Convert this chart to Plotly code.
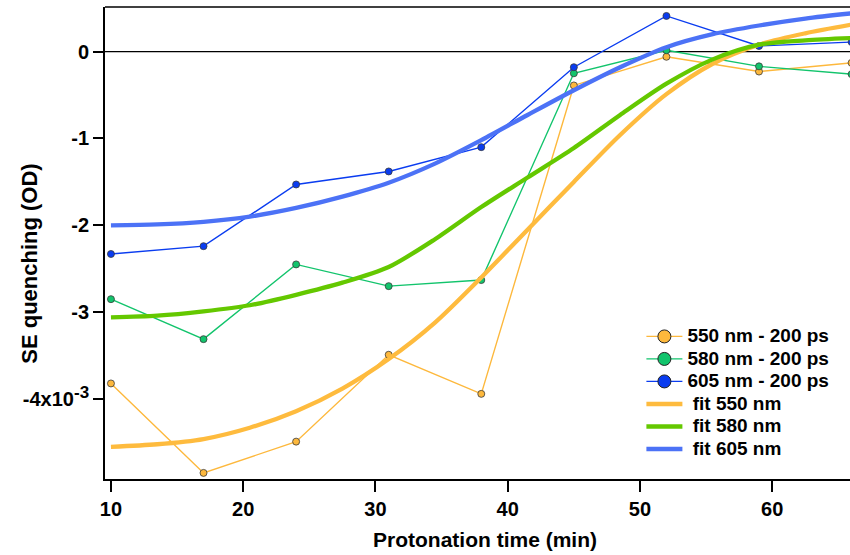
import plotly.graph_objects as go

# Protonation time (min)
time_min = [10, 17, 24, 31, 38, 45, 52, 59, 66]

# Stimulated-emission quenching, units of 1e-3 OD
se_550 = [-3.82, -4.85, -4.49, -3.49, -3.94, -0.39, -0.06, -0.23, -0.13]
se_580 = [-2.85, -3.31, -2.45, -2.70, -2.63, -0.25, 0.015, -0.17, -0.26]
se_605 = [-2.33, -2.24, -1.53, -1.38, -1.10, -0.18, 0.41, 0.064, 0.11]

# Sigmoidal fit curves, sampled every 3.5 min
fit_time = [10, 13.5, 17, 20.5, 24, 27.5, 31, 34.5, 38, 41.5, 45, 48.5, 52, 55.5, 59, 62.5, 66]
fit_550 = [-4.55, -4.52, -4.46, -4.33, -4.14, -3.88, -3.54, -3.12, -2.60, -2.05, -1.50,
           -0.96, -0.49, -0.14, 0.08, 0.21, 0.31]
fit_580 = [-3.06, -3.04, -2.99, -2.92, -2.80, -2.66, -2.48, -2.16, -1.79, -1.45, -1.11,
           -0.73, -0.37, -0.09, 0.08, 0.13, 0.155]
fit_605 = [-2.00, -1.99, -1.96, -1.90, -1.80, -1.67, -1.51, -1.29, -1.02, -0.73, -0.445,
           -0.18, 0.05, 0.20, 0.30, 0.38, 0.44]

data_names = ["550 nm - 200 ps", "580 nm - 200 ps", "605 nm - 200 ps"]
fit_names = ["\u00a0fit 550 nm", "\u00a0fit 580 nm", "\u00a0fit 605 nm"]

y_tick_vals = [0, -1, -2, -3, -4]
y_tick_text = ["0", "-1", "-2", "-3",
               '-4x10<sup><span style="font-size:17px">-3</span></sup>']
x_tick_vals = [10, 20, 30, 40, 50, 60]

x_title = "Protonation time (min)"
y_title = "SE quenching (OD)"

data_colors = ["#FDB83C", "#12C46C", "#0A3CF0"]
fit_colors = ["#FEBB3E", "#64C800", "#4C72F6"]

FONT = "Arial, Liberation Sans, sans-serif"


def legend_label(text):
    # larger glyphs inside a compact legend row
    return '<span style="font-size:19px">' + text + "</span>"


fig = go.Figure()

# measured series (markers + thin connecting lines)
for ys, name, col in zip([se_550, se_580, se_605], data_names, data_colors):
    fig.add_trace(go.Scatter(
        x=time_min, y=ys, mode="lines+markers", name=name,
        line=dict(color=col, width=1.4),
        marker=dict(color=col, size=7, line=dict(color="#3a3a3a", width=0.8)),
        showlegend=False,
    ))

# fitted curves
for ys, col in zip([fit_550, fit_580, fit_605], fit_colors):
    fig.add_trace(go.Scatter(
        x=fit_time, y=ys, mode="lines",
        line=dict(color=col, width=4.3, shape="spline", smoothing=0.8),
        showlegend=False,
    ))

# legend entries (larger symbols than the plotted markers)
for name, col in zip(data_names, data_colors):
    fig.add_trace(go.Scatter(
        x=[None], y=[None], mode="lines+markers", name=legend_label(name),
        line=dict(color=col, width=1.4),
        marker=dict(color=col, size=13, line=dict(color="#222222", width=1)),
    ))
for name, col in zip(fit_names, fit_colors):
    fig.add_trace(go.Scatter(
        x=[None], y=[None], mode="lines", name=legend_label(name),
        line=dict(color=col, width=4.5),
    ))

# zero reference line and top frame
fig.add_hline(y=0, line=dict(color="black", width=1.2), layer="below")
fig.add_shape(type="line", xref="paper", yref="paper", x0=0, x1=1, y0=1, y1=1,
              line=dict(color="black", width=1.5))

# axis titles
fig.add_annotation(text=x_title, xref="paper", yref="paper", x=0.51, y=-0.128,
                   xanchor="center", yanchor="middle", showarrow=False,
                   font=dict(size=21, weight="bold"))
fig.add_annotation(text=y_title, xref="paper", yref="paper", x=-0.1007, y=0.456,
                   xanchor="center", yanchor="middle", textangle=-90, showarrow=False,
                   font=dict(size=22, weight="bold"))

fig.update_layout(
    width=850, height=555,
    margin=dict(l=105, r=0, t=7, b=76),
    paper_bgcolor="white", plot_bgcolor="white",
    font=dict(family=FONT, color="black", size=19, weight="bold"),
    showlegend=True,
    legend=dict(
        x=0.72, y=0.3365, xanchor="left", yanchor="top",
        bgcolor="rgba(0,0,0,0)", borderwidth=0,
        font=dict(family=FONT, size=15, color="black", weight="bold"),
        tracegroupgap=0, itemwidth=36,
    ),
    xaxis=dict(
        range=[9.55, 65.88], tickvals=x_tick_vals,
        showgrid=False, zeroline=False,
        showline=True, linecolor="black", linewidth=1.8,
        ticks="outside", ticklen=11, tickwidth=1.5, tickcolor="black",
        tickfont=dict(size=20, weight="bold"),
    ),
    yaxis=dict(
        range=[-4.92, 0.513], tickvals=y_tick_vals, ticktext=y_tick_text,
        showgrid=False, zeroline=False,
        showline=True, linecolor="black", linewidth=1.8,
        ticks="outside", ticklen=10, tickwidth=1.5, tickcolor="black",
        tickfont=dict(size=20, weight="bold"),
    ),
)

fig.write_html("out.html")
